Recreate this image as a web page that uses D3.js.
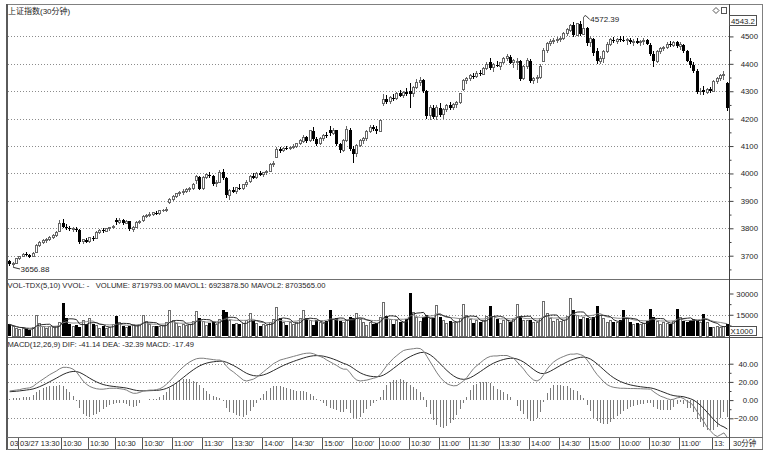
<!DOCTYPE html>
<html><head><meta charset="utf-8">
<script src="https://cdn.jsdelivr.net/npm/d3@7/dist/d3.min.js"></script>
<style>
html,body{margin:0;padding:0;background:#fff;overflow:hidden}
svg{display:block}
text{font-family:"Liberation Sans","Noto Sans CJK SC",sans-serif;fill:#1e1e1e}
</style></head><body>
<svg id="chart" width="770" height="456"></svg>
<script>
// ---- data (30-minute bars, 8 per trading day) ----
const open = [
3680,3668,3672,3688,3697,3706,3702,3697,
3712,3738,3748,3755,3760,3766,3772,3790,
3820,3806,3800,3796,3798,3792,3750,3758,
3752,3765,3762,3786,3792,3790,3798,3802,
3832,3822,3830,3818,3826,3796,3804,3822,
3828,3844,3848,3852,3856,3854,3864,3866,
3895,3906,3916,3926,3930,3936,3940,3944,
3975,3988,3944,3986,3996,3990,3962,3968,
4004,3984,3920,3938,3934,3948,3944,3958,
3970,3990,3984,4000,3995,4002,4008,4034,
4060,4088,4082,4092,4090,4096,4100,4108,
4118,4132,4120,4155,4126,4108,4128,4140,
4160,4146,4158,4106,4084,4120,4160,4090,
4072,4102,4120,4126,4152,4168,4162,4154,
4254,4270,4262,4276,4272,4292,4284,4296,
4300,4290,4315,4332,4340,4300,4210,4240,
4208,4240,4215,4232,4248,4240,4252,4258,
4305,4338,4345,4356,4352,4366,4362,4384,
4405,4385,4396,4392,4404,4420,4426,4404,
4404,4410,4345,4390,4412,4338,4345,4350,
4410,4448,4474,4482,4486,4490,4494,4510,
4522,4540,4504,4546,4508,4530,4476,4492,
4445,4410,4420,4446,4472,4488,4482,4490,
4488,4484,4488,4478,4482,4476,4480,4486,
4470,4436,4410,4444,4456,4460,4472,4468,
4478,4464,4470,4446,4412,4395,4375,4298,
4305,4296,4308,4300,4336,4345,4356,4330];
const high = [
3685,3676,3690,3700,3710,3712,3708,3712,
3742,3752,3760,3765,3772,3778,3790,3832,
3835,3815,3808,3804,3806,3798,3762,3766,
3768,3772,3790,3796,3800,3802,3806,3812,
3838,3836,3834,3832,3828,3808,3826,3830,
3848,3852,3858,3860,3864,3868,3872,3876,
3912,3920,3930,3936,3942,3948,3952,3965,
3995,3992,3992,4002,4004,3996,3975,4012,
4016,3988,3945,3950,3952,3960,3962,3975,
3995,4000,4005,4010,4006,4012,4040,4045,
4095,4098,4096,4102,4100,4106,4112,4125,
4140,4136,4160,4168,4134,4132,4145,4152,
4172,4165,4160,4112,4125,4172,4166,4100,
4108,4126,4132,4158,4176,4178,4172,4198,
4290,4285,4282,4290,4298,4305,4300,4310,
4330,4320,4345,4352,4346,4306,4248,4250,
4250,4256,4240,4255,4262,4258,4265,4295,
4345,4352,4362,4368,4372,4378,4388,4405,
4420,4402,4412,4408,4425,4436,4432,4418,
4420,4414,4395,4420,4416,4352,4358,4398,
4456,4480,4490,4494,4498,4500,4515,4530,
4545,4552,4550,4556,4572.39,4534,4500,4496,
4458,4428,4452,4478,4494,4498,4496,4500,
4502,4494,4496,4490,4494,4486,4494,4492,
4476,4448,4450,4462,4466,4478,4482,4484,
4484,4478,4474,4452,4420,4406,4382,4312,
4318,4312,4316,4342,4352,4362,4372,4335];
const low = [
3662,3656.88,3670,3684,3694,3698,3693,3695,
3710,3733,3742,3748,3752,3760,3768,3788,
3800,3795,3790,3785,3788,3742,3744,3745,
3748,3755,3760,3780,3784,3786,3790,3796,
3812,3816,3812,3814,3790,3788,3800,3814,
3822,3836,3842,3845,3848,3850,3858,3860,
3890,3900,3912,3918,3922,3928,3932,3938,
3960,3938,3940,3980,3984,3955,3950,3966,
3975,3912,3905,3928,3926,3938,3940,3952,
3965,3978,3980,3990,3988,3996,4005,4025,
4058,4075,4078,4085,4084,4088,4094,4104,
4112,4112,4116,4120,4100,4104,4120,4130,
4136,4140,4100,4075,4080,4116,4082,4038,
4060,4096,4108,4120,4148,4155,4145,4150,
4245,4255,4252,4265,4268,4278,4274,4284,
4238,4280,4308,4320,4292,4198,4195,4198,
4195,4205,4200,4225,4232,4230,4240,4254,
4300,4326,4338,4346,4348,4355,4358,4378,
4378,4370,4388,4378,4400,4412,4398,4385,
4378,4336,4340,4382,4330,4325,4330,4346,
4405,4440,4466,4472,4476,4480,4488,4502,
4515,4498,4500,4500,4505,4466,4460,4430,
4400,4398,4402,4440,4466,4476,4474,4480,
4478,4470,4474,4466,4472,4464,4470,4468,
4428,4390,4402,4436,4446,4455,4462,4460,
4458,4452,4440,4405,4385,4366,4290,4286,
4288,4290,4294,4298,4328,4338,4340,4228];
const close = [
3668,3672,3688,3697,3706,3702,3697,3708,
3738,3748,3755,3760,3766,3772,3786,3818,
3806,3800,3796,3798,3792,3750,3758,3750,
3765,3762,3786,3792,3790,3798,3802,3808,
3822,3830,3818,3826,3796,3804,3822,3826,
3844,3848,3852,3856,3854,3864,3866,3870,
3906,3916,3926,3930,3936,3940,3944,3958,
3988,3944,3986,3996,3990,3962,3968,4004,
3984,3920,3938,3934,3948,3944,3958,3968,
3990,3984,4000,3995,4002,4008,4034,4036,
4088,4082,4092,4090,4096,4100,4108,4120,
4132,4120,4155,4126,4108,4128,4140,4138,
4146,4158,4106,4084,4120,4160,4090,4072,
4102,4120,4126,4152,4168,4162,4154,4194,
4270,4262,4276,4272,4292,4284,4296,4290,
4290,4315,4332,4340,4300,4210,4240,4205,
4240,4215,4232,4248,4240,4252,4258,4290,
4338,4345,4356,4352,4366,4362,4384,4398,
4385,4396,4392,4404,4420,4426,4404,4412,
4410,4345,4390,4412,4338,4345,4350,4392,
4448,4474,4482,4486,4490,4494,4510,4526,
4540,4504,4546,4508,4530,4476,4492,4440,
4410,4420,4446,4472,4488,4482,4490,4486,
4484,4488,4478,4482,4476,4480,4486,4474,
4436,4410,4444,4456,4460,4472,4468,4478,
4464,4470,4446,4412,4395,4375,4298,4300,
4296,4308,4300,4336,4345,4356,4362,4238];
// volume in units of 1000 (axis shows X1000)
const volume = [
8200,6500,5200,4300,5600,4600,4400,6200,
14600,8800,6400,5200,6500,5800,6900,9800,
23000,12500,8600,6400,7600,6600,11200,8400,
12500,8200,7400,5600,6800,5600,6200,7900,
14000,9400,7200,5800,7000,8200,7300,8400,
14600,10200,8000,6400,7200,6500,7400,9600,
18000,11200,8800,7000,8400,7600,8200,10400,
17000,12800,10200,7600,9400,10000,8400,11400,
18700,17000,10600,8200,9000,8200,8600,10800,
15800,10400,8800,6800,8000,7200,9600,11800,
20000,12600,9800,7800,9200,8200,9400,12200,
18200,12400,10800,8000,11200,9800,8600,10600,
18200,12000,12400,10400,9800,10600,13200,12600,
16000,11400,9400,7600,9600,8800,9200,13000,
23400,14200,11400,8800,10600,9600,9200,11800,
30600,16400,12800,10200,13400,14800,12600,12800,
21800,13600,11200,8600,10400,9400,9800,12400,
22300,14400,11600,9200,10800,9800,10600,13600,
21000,13800,11800,9000,10800,11200,9800,11600,
22300,14200,11000,10800,11400,9600,9400,12400,
24100,15600,12200,10000,11800,10400,11200,13800,
26600,18200,14600,11800,13200,12800,11400,13600,
21000,14600,12400,9400,11000,9600,9800,11600,
18700,12600,10200,8000,9400,8400,8600,10400,
19400,13200,10400,8200,9600,8600,8800,10200,
19400,12800,10600,9800,11400,12200,10800,9800,
15800,9400,6600,6200,6800,6300,6600,8720];
// MACD DIF line
const dif = [
10,10.5,11,11.5,12.5,13,13.5,15,
18,20.5,23,25.5,28,30,32,34.5,
36,36,35.5,34,31,26,21,17.5,
15,13.5,12.5,12,12,12.5,13,13,
13,12.5,12,11,9,7.5,7.5,8.5,
10,10.5,11,11,11.5,12.5,14.5,17.5,
21,25,29,33,36.5,39.5,42,44,
45.5,46,46,45.5,45,44.5,44,44,
42,37,33.5,31,28,25,22,21,
22,23,25,28,31,34,37,40,
42,44,45,46,47,48,49,50,
51,51.5,51.7,51,49.5,48,46.5,44,
42,40,38,35.5,34,34,30,25,
22,21,21.5,22,23,24,25,28,
33,38,42,46,49,52,54.5,55.5,
56,56.5,57,56.6,54,48,42,36,
30,25,21,18,16.5,15.7,16,18.5,
21,25,30,34.7,38,41,44,46.5,
48,48.5,48.5,49,49,49,47.5,46,
42,38,34,29,25,22,21,23,
28,34,38.5,42,44.5,46.5,48,49.5,
50.5,50.5,51,50,48.5,44,39,33,
28,24,20,17,15,14,13.5,13,
13,12.8,12.7,12.7,12.6,12.5,12.3,12.2,
12,9,6.5,4.3,3,1.5,0.5,1,
2.5,3,1.5,-1.5,-3,-7,-13,-18,
-24,-30,-34,-38,-40,-38,-36,-41.14];
const deaSeed = 9;
const priceTicks = [3700,3800,3900,4000,4100,4200,4300,4400,4500];
const priceMinor = [3650,3750,3850,3950,4050,4150,4250,4350,4450,4550];
const volTicks = [15000,30000];
const volMinor = [7500,22500];
const volGrid = [15000];
const macdTicks = [40,20,0,-20];
const macdMinor = [30,10,-10];
const macdGrid = [40,20,-20];
const xTickBars = [0,3,16,24,32,40,49,58,67,76,85,94,103,111,120,129,138,147,156,165,174,183,192,201,211];
const xTickText = ["03","03/27 13:30","10:30","10:30","10:30","10:30'","11:00'","11:30'","13:30'","14:00'","14:30'","15:00'","10:00'","10:00'","10:30'","11:00'","11:30'","13:30'","14:00'","14:30'","15:00'","10:00'","10:30'","11:00'","13:"];
const titleMain = "上证指数(30分钟)";
const titleVol = "VOL-TDX(5,10) VVOL: -   VOLUME: 8719793.00 MAVOL1: 6923878.50 MAVOL2: 8703565.00";
const titleMacd = "MACD(12,26,9) DIF: -41.14 DEA: -32.39 MACD: -17.49";
const cursorPrice = "4543.2";
const periodText = "30分钟";

// ---- drawing ----
const svg = d3.select("#chart");
const N = close.length;
const L = 8, R = 729;
const x = d3.scaleBand().domain(d3.range(N)).range([L, R]);
const cx = i => x(i) + x.bandwidth() / 2;
const col = i => Math.floor(cx(i));
const yP = d3.scaleLinear().domain([3615, 4614.6]).range([279, 5]);
const yV = d3.scaleLinear().domain([0, 30000]).range([336, 293.5]);
const yM = d3.scaleLinear().domain([-20, 40]).range([418.3, 363.7]);
const snap = v => Math.round(v) + 0.5;

// derived indicators
const dea = []; let prevDea = deaSeed;
dif.forEach(v => { prevDea = prevDea * 0.8 + v * 0.2; dea.push(prevDea); });
const hist = dif.map((v, i) => 2 * (v - dea[i]));
const mavol = n => volume.map((v, i) => d3.mean(volume.slice(Math.max(0, i - n + 1), i + 1)));
const ma5 = mavol(5), ma10 = mavol(10);

// grids
const grid = svg.append("g").attr("stroke", "#8c8c8c").attr("stroke-dasharray", "1,2").attr("shape-rendering", "crispEdges");
priceTicks.forEach(t => grid.append("line").attr("x1", L).attr("x2", R).attr("y1", snap(yP(t))).attr("y2", snap(yP(t))));
volGrid.forEach(t => grid.append("line").attr("x1", L).attr("x2", R).attr("y1", snap(yV(t))).attr("y2", snap(yV(t))));
macdGrid.forEach(t => grid.append("line").attr("x1", L).attr("x2", R).attr("y1", snap(yM(t))).attr("y2", snap(yM(t))));

// candles
const gC = svg.append("g").attr("shape-rendering", "crispEdges");
d3.range(N).forEach(i => {
  const c = col(i), up = close[i] >= open[i];
  const st = up ? "#666" : "#000";
  gC.append("line").attr("x1", c + 0.5).attr("x2", c + 0.5)
    .attr("y1", yP(high[i])).attr("y2", yP(low[i])).attr("stroke", st);
  const yt = yP(Math.max(open[i], close[i])), yb = yP(Math.min(open[i], close[i]));
  if (up) {
    gC.append("rect").attr("x", c - 0.5).attr("y", yt).attr("width", 2).attr("height", Math.max(yb - yt, 0.6))
      .attr("fill", "#fff").attr("stroke", st);
  } else {
    gC.append("rect").attr("x", c - 1).attr("y", yt).attr("width", 3).attr("height", Math.max(yb - yt, 1))
      .attr("fill", "#000");
  }
});

// volume bars
const gV = svg.append("g").attr("shape-rendering", "crispEdges");
d3.range(N).forEach(i => {
  const c = col(i), up = close[i] >= open[i];
  const yt = yV(volume[i]), yb = yV(0);
  if (up) {
    gV.append("rect").attr("x", c - 0.5).attr("y", yt).attr("width", 2).attr("height", yb - yt)
      .attr("fill", "#fff").attr("stroke", "#6e6e6e");
  } else {
    gV.append("rect").attr("x", c - 1).attr("y", yt).attr("width", 3).attr("height", yb - yt).attr("fill", "#000");
  }
});
const lineV = arr => d3.line().x((d, i) => cx(i)).y(d => yV(d))(arr);
svg.append("path").attr("d", lineV(ma10)).attr("fill", "none").attr("stroke", "#8a8a8a").attr("stroke-width", 1);
svg.append("path").attr("d", lineV(ma5)).attr("fill", "none").attr("stroke", "#2a2a2a").attr("stroke-width", 1);

// MACD histogram & lines
const gM = svg.append("g").attr("shape-rendering", "crispEdges").attr("stroke", "#7a7a7a");
hist.forEach((h, i) => {
  gM.append("line").attr("x1", col(i) + 0.5).attr("x2", col(i) + 0.5).attr("y1", yM(0)).attr("y2", yM(h));
});
const lineM = arr => d3.line().x((d, i) => cx(i)).y(d => yM(d))(arr);
svg.append("path").attr("d", lineM(dea)).attr("fill", "none").attr("stroke", "#2a2a2a").attr("stroke-width", 1);
svg.append("path").attr("d", lineM(dif)).attr("fill", "none").attr("stroke", "#7e7e7e").attr("stroke-width", 1);

// frame & separators
const fr = svg.append("g").attr("shape-rendering", "crispEdges").attr("fill", "none");
fr.append("line").attr("x1", 7).attr("x2", 763).attr("y1", 4.5).attr("y2", 4.5).attr("stroke", "#808080");
fr.append("line").attr("x1", 7).attr("x2", 7).attr("y1", 4).attr("y2", 450).attr("stroke", "#5a5a5a").attr("stroke-width", 2);
fr.append("line").attr("x1", 762.5).attr("x2", 762.5).attr("y1", 4).attr("y2", 450).attr("stroke", "#808080");
fr.append("line").attr("x1", 7).attr("x2", 763).attr("y1", 279.5).attr("y2", 279.5).attr("stroke", "#707070");
fr.append("line").attr("x1", 7).attr("x2", 763).attr("y1", 337.5).attr("y2", 337.5).attr("stroke", "#505050");
fr.append("line").attr("x1", 7).attr("x2", 763).attr("y1", 437.5).attr("y2", 437.5).attr("stroke", "#707070");
fr.append("line").attr("x1", 7).attr("x2", 763).attr("y1", 449.5).attr("y2", 449.5).attr("stroke", "#707070");
fr.append("line").attr("x1", R + 0.5).attr("x2", R + 0.5).attr("y1", 4).attr("y2", 450).attr("stroke", "#404040");

// right axes
function rightAxis(scale, major, minor, fmt) {
  const g = svg.append("g").attr("transform", `translate(${R + 0.5},0)`);
  g.call(d3.axisRight(scale).tickValues(major).tickSize(4).tickFormat(fmt));
  g.select(".domain").remove();
  g.selectAll(".tick line").attr("stroke", "#404040");
  g.selectAll(".tick text").attr("x", 28.5).attr("text-anchor", "end").attr("font-size", 7.8)
    .attr("font-family", "Liberation Sans").attr("fill", "#1e1e1e");
  const gm = svg.append("g").attr("transform", `translate(${R + 0.5},0)`);
  gm.call(d3.axisRight(scale).tickValues(minor).tickSize(2).tickFormat(""));
  gm.select(".domain").remove();
  gm.selectAll(".tick line").attr("stroke", "#404040");
}
rightAxis(yP, priceTicks, priceMinor, d3.format("d"));
rightAxis(yV, volTicks, volMinor, d3.format("d"));
rightAxis(yM, macdTicks, macdMinor, d3.format(".2f"));

// boxes on right
svg.append("rect").attr("x", 729.5).attr("y", 15.5).attr("width", 27).attr("height", 10)
  .attr("fill", "#fff").attr("stroke", "#505050").attr("shape-rendering", "crispEdges");
svg.append("text").attr("x", 731).attr("y", 23.6).attr("font-size", 7.8).text(cursorPrice);
svg.append("rect").attr("x", 729.5).attr("y", 326.5).attr("width", 27).attr("height", 9)
  .attr("fill", "#fff").attr("stroke", "#505050").attr("shape-rendering", "crispEdges");
svg.append("text").attr("x", 730.5).attr("y", 334.2).attr("font-size", 7.8).text("X1000");

// top-right icons
svg.append("path").attr("d", "M716,7.5 L719,10.5 L716,13.5 L713,10.5 Z").attr("fill", "#fff").attr("stroke", "#555");
svg.append("rect").attr("x", 721.5).attr("y", 7.5).attr("width", 5).attr("height", 6).attr("fill", "#fff").attr("stroke", "#555").attr("shape-rendering", "crispEdges");

// titles
svg.append("text").attr("x", 8).attr("y", 14.3).attr("font-size", 8).text(titleMain);
svg.append("text").attr("x", 7.5).attr("y", 288.3).attr("font-size", 7.6).attr("xml:space", "preserve").text(titleVol);
svg.append("text").attr("x", 7.5).attr("y", 346.8).attr("font-size", 7.6).text(titleMacd);

// max/min markers
const iMax = d3.maxIndex(high), iMin = d3.minIndex(low);
{
  const px = cx(iMax), py = yP(high[iMax]);
  svg.append("path").attr("d", `M${px},${py} L${px + 2},${py - 1} L${px + 6},${py + 3}`).attr("fill", "none").attr("stroke", "#333");
  svg.append("text").attr("x", px + 6.5).attr("y", py + 5.5).attr("font-size", 8).text(d3.format(".2f")(high[iMax]));
}
{
  const px = cx(iMin), py = yP(low[iMin]);
  svg.append("path").attr("d", `M${px + 1},${py} L${px + 7},${py + 1.5}`).attr("fill", "none").attr("stroke", "#333");
  svg.append("text").attr("x", px + 7.5).attr("y", py + 4).attr("font-size", 8).text(d3.format(".2f")(low[iMin]));
}

// bottom time axis
const gX = svg.append("g");
xTickBars.forEach((b, k) => {
  const tx = Math.round(x(b)) + 0.5;
  const t = gX.append("text").attr("x", tx + 1.5).attr("y", 446.3).attr("font-size", 7.5).text(xTickText[k]);
  const w = t.node().getComputedTextLength();
  gX.insert("rect", () => t.node()).attr("x", tx).attr("y", 438).attr("width", w + 2).attr("height", 11).attr("fill", "#fff");
  if (k > 0) gX.append("line").attr("x1", tx).attr("x2", tx).attr("y1", 438).attr("y2", 449).attr("stroke", "#555").attr("shape-rendering", "crispEdges");
});
svg.append("text").attr("x", 733).attr("y", 446.3).attr("font-size", 7.5).text(periodText);
</script>
</body></html>
